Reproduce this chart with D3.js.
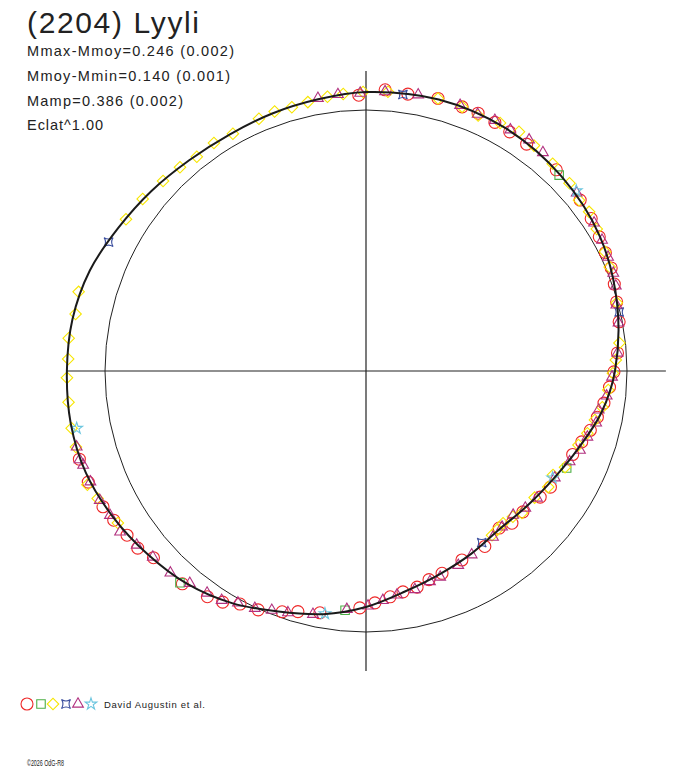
<!DOCTYPE html>
<html>
<head>
<meta charset="utf-8">
<script src="https://cdn.jsdelivr.net/npm/d3@7"></script>
<style>
  body { margin: 0; background: #fff; }
  svg { display: block; }
  text { font-family: "Liberation Sans", Arial, sans-serif; fill: #222; }
</style>
</head>
<body>
<script>
// fitted light curve: angle (deg, clockwise from top) and flux relative to mean
const curveAngle = [0, 15, 30, 45, 60, 75, 90, 100, 110, 120, 130, 140, 150, 160, 170, 180,
                    190, 200, 210, 220, 230, 240, 250, 260, 270, 280, 290, 300, 310, 320, 330, 340, 350];
const curveFlux  = [1.069, 1.077, 1.073, 1.057, 1.034, 0.996, 0.954, 0.916, 0.866, 0.828, 0.805, 0.793, 0.808, 0.828, 0.858, 0.904,
                    0.946, 0.981, 1.027, 1.065, 1.092, 1.119, 1.142, 1.149, 1.146, 1.142, 1.126, 1.096, 1.073, 1.054, 1.046, 1.050, 1.057];

// observations per session: [angle, flux]
const circlePts = [
  [358.5, 1.057], [3.9, 1.080], [8.6, 1.073], [14.8, 1.080], [20.0, 1.077], [23.5, 1.077], [27.4, 1.073],
  [31.0, 1.069], [35.3, 1.065], [43.4, 1.061], [51.4, 1.050], [55.9, 1.042], [60.1, 1.031], [63.7, 1.023],
  [67.2, 1.019], [70.7, 1.008], [74.6, 0.996], [79.0, 0.988], [85.9, 0.966], [90.2, 0.950], [93.8, 0.935],
  [97.7, 0.920], [101.3, 0.904], [104.8, 0.889], [108.2, 0.870], [112.0, 0.854], [122.2, 0.835], [125.9, 0.824],
  [131.9, 0.808], [136.2, 0.808], [139.7, 0.789], [145.9, 0.812], [153.1, 0.812], [159.4, 0.828], [163.2, 0.835],
  [166.7, 0.851], [170.5, 0.858], [173.9, 0.870], [177.8, 0.889], [181.5, 0.908], [190.8, 0.943], [195.8, 0.958],
  [199.2, 0.977], [204.3, 1.004], [208.4, 1.015], [211.8, 1.042], [215.1, 1.057], [220.8, 1.077], [228.7, 1.084],
  [232.2, 1.107], [235.5, 1.111], [239.4, 1.123], [242.7, 1.134], [248.2, 1.146], [252.9, 1.149]
];
const squarePts = [[44.6, 1.054], [115.8, 0.854], [185.0, 0.920], [221.3, 1.080]];
const diamondPts = [
  [259.0, 1.149], [264.0, 1.146], [268.7, 1.146], [272.3, 1.142], [276.3, 1.146], [281.1, 1.134], [285.4, 1.142],
  [302.3, 1.088], [307.6, 1.080], [313.1, 1.065], [317.6, 1.057], [321.7, 1.046], [326.3, 1.050], [330.7, 1.042],
  [337.0, 1.050], [340.6, 1.054], [344.3, 1.050], [347.8, 1.054], [352.0, 1.061], [355.3, 1.065], [359.4, 1.069],
  [4.5, 1.073], [14.8, 1.080], [20.0, 1.077], [23.7, 1.069], [28.4, 1.080], [32.6, 1.088], [36.7, 1.077],
  [42.0, 1.069], [47.3, 1.061], [51.3, 1.046], [54.5, 1.050], [58.4, 1.038], [63.5, 1.023], [66.9, 1.015],
  [74.8, 0.996], [83.7, 0.977], [87.5, 0.958], [90.5, 0.946], [94.5, 0.931], [98.7, 0.916], [102.1, 0.897],
  [105.7, 0.881], [109.2, 0.862], [115.8, 0.847], [119.1, 0.820], [122.5, 0.828], [126.9, 0.808], [132.3, 0.808],
  [134.8, 0.793], [138.0, 0.785], [140.5, 0.789], [142.5, 0.793],
  [238.5, 1.115], [244.6, 1.138], [247.8, 1.153], [255.3, 1.149]
];
const crossPts = [[7.6, 1.069], [76.9, 0.996], [146.0, 0.793], [296.6, 1.103]];
const trianglePts = [
  [350.0, 1.061], [354.2, 1.065], [358.8, 1.065], [3.9, 1.073], [10.7, 1.077], [19.5, 1.080], [23.5, 1.073],
  [27.2, 1.080], [30.9, 1.077], [35.2, 1.084], [39.0, 1.077], [49.8, 1.057], [57.0, 1.042], [61.0, 1.034],
  [64.8, 1.025], [68.4, 1.019], [71.2, 1.011], [75.2, 0.992], [79.2, 0.985], [85.9, 0.966], [91.4, 0.943],
  [95.9, 0.927], [99.5, 0.904], [102.7, 0.904], [106.6, 0.885], [110.3, 0.874], [114.0, 0.854], [119.5, 0.831],
  [126.6, 0.816], [130.7, 0.805], [134.4, 0.789], [138.9, 0.793], [142.6, 0.801], [150.1, 0.812], [154.6, 0.824],
  [160.2, 0.839], [163.1, 0.843], [167.4, 0.858], [172.1, 0.866], [175.8, 0.881], [179.5, 0.900], [184.6, 0.916],
  [192.3, 0.954], [197.9, 0.973], [201.5, 0.985], [205.1, 1.004], [208.9, 1.015], [212.2, 1.038], [215.6, 1.046],
  [219.7, 1.057], [224.1, 1.077], [228.9, 1.084], [232.8, 1.103], [236.8, 1.126], [240.6, 1.126], [244.1, 1.134],
  [248.1, 1.138], [251.6, 1.142], [252.8, 1.149], [255.3, 1.146]
];
const starPts = [[49.4, 1.061], [119.8, 0.824], [189.6, 0.943], [258.8, 1.130]];

const titleText = "(2204) Lyyli";
const infoLines = ["Mmax-Mmoy=0.246 (0.002)", "Mmoy-Mmin=0.140 (0.001)", "Mamp=0.386 (0.002)", "Eclat^1.00"];
const infoWidths = [207, 203, 156, 76];
const authorText = "David Augustin et al.";
const creditText = "\u00a92026 OdG-R8";

const svgWidth = 688;
const svgHeight = 768;
const cx = 366, cy = 371;

const rScale = d3.scaleLinear().domain([0, 1]).range([0, 261]);
const toRad = d3.scaleLinear().domain([0, 360]).range([0, 2 * Math.PI]);

const px = d => cx + rScale(d[1]) * Math.sin(toRad(d[0]));
const py = d => cy - rScale(d[1]) * Math.cos(toRad(d[0]));

// concave four-point marker (not in d3.symbol set)
const crossPath = (() => {
    const p = d3.path(), s = 4.5, k = 1.6;
    p.moveTo(-s, -s);
    p.quadraticCurveTo(0, -k, s, -s);
    p.quadraticCurveTo(k, 0, s, s);
    p.quadraticCurveTo(0, k, -s, s);
    p.quadraticCurveTo(-k, 0, -s, -s);
    p.closePath();
    return p.toString();
})();

const series = [
    {pts: circlePts,   color: "#ee2828", path: d3.symbol(d3.symbolCircle, 113)(), rot: 0},
    {pts: squarePts,   color: "#4caf45", path: d3.symbol(d3.symbolSquare, 72)(), rot: 0},
    {pts: diamondPts,  color: "#f7e600", path: d3.symbol(d3.symbolSquare, 66)(), rot: 45},
    {pts: crossPts,    color: "#3b4e9e", path: crossPath, rot: 0},
    {pts: trianglePts, color: "#b1307f", path: d3.symbol(d3.symbolTriangle, 50)(), rot: 0},
    {pts: starPts,     color: "#6cc6df", path: d3.symbol(d3.symbolStar, 42)(), rot: 0}
];

const svg = d3.select("body")
    .append("svg")
    .attr("width", svgWidth)
    .attr("height", svgHeight);

// axes through the center
const axisR = rScale(d3.max(curveFlux));
svg.append("line")
    .attr("x1", cx - axisR).attr("x2", cx + axisR)
    .attr("y1", cy).attr("y2", cy)
    .style("stroke", "#222").style("stroke-width", 1.2);
svg.append("line")
    .attr("x1", cx).attr("x2", cx)
    .attr("y1", cy - axisR).attr("y2", cy + axisR)
    .style("stroke", "#222").style("stroke-width", 1.2);

// mean level circle
svg.append("circle")
    .attr("cx", cx).attr("cy", cy)
    .attr("r", rScale(1))
    .style("fill", "none")
    .style("stroke", "#222")
    .style("stroke-width", 1);

// observations
series.forEach(s => {
    svg.append("g")
        .selectAll(null)
        .data(s.pts)
        .join("path")
        .attr("d", s.path)
        .attr("transform", d => `translate(${px(d)},${py(d)}) rotate(${s.rot})`)
        .style("fill", "none")
        .style("stroke", s.color)
        .style("stroke-width", 1.1);
});

// fitted curve on top
const curveData = curveAngle.map((a, i) => [a, curveFlux[i]]);
const radial = d3.lineRadial()
    .angle(d => toRad(d[0]))
    .radius(d => rScale(d[1]))
    .curve(d3.curveCatmullRomClosed);
svg.append("path")
    .attr("d", radial(curveData))
    .attr("transform", `translate(${cx},${cy})`)
    .style("fill", "none")
    .style("stroke", "#1a1a1a")
    .style("stroke-width", 2);

// texts
svg.append("text")
    .attr("x", 27).attr("y", 33)
    .attr("textLength", 172)
    .attr("lengthAdjust", "spacing")
    .style("font-size", "30px")
    .text(titleText);

svg.selectAll(null)
    .data(infoLines)
    .join("text")
    .attr("x", 27)
    .attr("y", (d, i) => 56 + i * 24.8)
    .attr("textLength", (d, i) => infoWidths[i])
    .attr("lengthAdjust", "spacing")
    .style("font-size", "14.5px")
    .text(d => d);

// legend
const legendX = [27, 41, 53, 66, 78, 91];
series.forEach((s, i) => {
    svg.append("path")
        .attr("d", s.path)
        .attr("transform", `translate(${legendX[i]},704) rotate(${s.rot})`)
        .style("fill", "none")
        .style("stroke", s.color)
        .style("stroke-width", 1.1);
});
svg.append("text")
    .attr("x", 104).attr("y", 708)
    .attr("textLength", 101)
    .attr("lengthAdjust", "spacing")
    .style("font-size", "9.5px")
    .text(authorText);

svg.append("text")
    .attr("x", 27).attr("y", 766)
    .attr("textLength", 37)
    .attr("lengthAdjust", "spacingAndGlyphs")
    .style("font-size", "8.5px")
    .text(creditText);
</script>
</body>
</html>
